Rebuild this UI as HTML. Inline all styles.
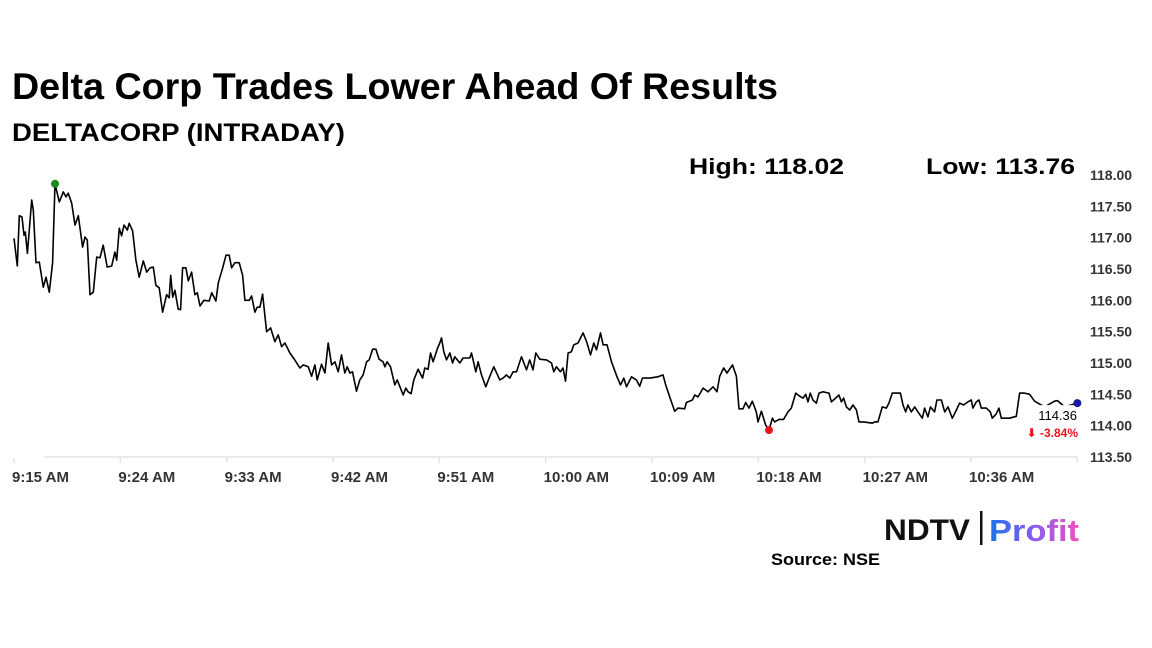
<!DOCTYPE html>
<html><head><meta charset="utf-8"><style>
html,body{margin:0;padding:0;background:#fff;width:1152px;height:648px;overflow:hidden}
svg{display:block}
text{font-family:"Liberation Sans","DejaVu Sans",sans-serif}
</style></head><body>
<svg id="chart" width="1152" height="648" viewBox="0 0 1152 648" xmlns="http://www.w3.org/2000/svg">
<defs><linearGradient id="pg" x1="0" x2="1" y1="0" y2="0"><stop offset="0" stop-color="#1a73e8"/><stop offset="0.5" stop-color="#8a5cf0"/><stop offset="1" stop-color="#f050c0"/></linearGradient></defs>
<text x="12" y="99" font-size="37" font-weight="bold" fill="#000" textLength="766" lengthAdjust="spacingAndGlyphs">Delta Corp Trades Lower Ahead Of Results</text>
<text x="12" y="141" font-size="25" font-weight="bold" fill="#000" textLength="333" lengthAdjust="spacingAndGlyphs">DELTACORP (INTRADAY)</text>
<text x="689" y="174" font-size="22" font-weight="bold" fill="#000" textLength="155" lengthAdjust="spacingAndGlyphs">High: 118.02</text>
<text x="926" y="174" font-size="22" font-weight="bold" fill="#000" textLength="149" lengthAdjust="spacingAndGlyphs">Low: 113.76</text>
<g id="yaxis"></g>
<g id="xaxis"></g>
<g id="plot"></g>
<g>
<text x="884" y="540" font-size="30" font-weight="bold" fill="#111" textLength="86" lengthAdjust="spacingAndGlyphs">NDTV</text>
<rect x="980" y="511" width="2.5" height="34" fill="#111"/>
<text x="989" y="541" font-size="31" font-weight="bold" fill="url(#pg)" textLength="90" lengthAdjust="spacingAndGlyphs">Profit</text>
</g>
<text x="771" y="565" font-size="17" font-weight="bold" fill="#000" textLength="109" lengthAdjust="spacingAndGlyphs">Source: NSE</text>
</svg>
<script>
// minutes since 9:15 AM
const times = [0,0.28,0.45,0.68,0.85,0.96,1.13,1.5,1.63,1.86,2.14,2.48,2.71,2.99,3.27,3.47,3.83,4.17,4.4,4.59,4.88,5.16,5.44,5.81,6.01,6.2,6.43,6.71,7.0,7.28,7.55,7.89,8.27,8.54,8.69,8.91,9.11,9.31,9.59,9.75,10.04,10.32,10.6,10.94,11.23,11.51,11.79,12.01,12.29,12.58,12.92,13.14,13.26,13.43,13.62,13.9,14.1,14.27,14.55,14.75,15.03,15.31,15.51,15.74,16.07,16.52,16.73,17.09,17.29,17.66,17.94,18.21,18.42,18.7,19.06,19.35,19.54,19.91,20.11,20.39,20.58,20.81,21.04,21.38,21.72,22.08,22.36,22.65,22.93,23.35,23.77,24.2,24.48,24.9,25.19,25.47,25.66,26.03,26.31,26.59,26.88,27.16,27.44,27.72,28.0,28.2,28.43,28.65,28.99,29.27,29.55,29.84,30.06,30.35,30.63,30.9,31.24,31.39,31.58,31.87,32.23,32.43,32.94,33.16,33.36,33.61,33.84,34.2,34.58,34.77,35.05,35.25,35.47,35.85,36.04,36.18,36.38,36.61,36.89,37.12,37.31,37.73,38.01,38.58,38.72,39.09,39.28,39.57,39.93,40.21,40.61,41.12,41.4,41.68,41.96,42.24,42.53,42.95,43.38,43.65,43.93,44.16,44.5,45.07,45.49,45.69,45.91,46.25,46.47,46.68,46.9,47.18,47.38,47.74,48.17,48.46,48.79,49.07,49.3,49.64,49.86,50.19,50.57,51.04,51.33,51.61,51.84,52.26,52.68,52.96,53.19,53.81,54.51,54.93,55.16,55.5,55.92,56.2,56.77,56.91,57.42,57.61,57.89,58.32,58.74,59.16,59.5,59.73,60.07,60.35,60.81,61.14,61.36,61.7,61.93,62.21,62.49,62.83,62.97,63.26,63.62,63.9,64.19,64.38,64.75,65.14,65.51,65.79,66.16,66.5,66.78,67.01,67.2,67.4,67.62,67.91,68.13,68.47,68.98,69.18,69.54,69.82,70.03,70.22,70.45,70.73,71.01,71.3,71.52,71.91,72.65,72.84,73.12,73.49,73.83,74.05,74.34,74.68,75.02,75.24,75.47,75.66,75.95,76.23,76.51,76.88,77.07,77.35,77.56,77.92,78.11,78.49,78.77,79.05,79.42,79.76,80.03,80.37,80.74,81.02,81.16,81.45,81.67,81.87,82.29,82.63,82.8,83.14,83.36,83.56,84.26,84.83,85.11,85.53,85.96,86.38,87.23,88.07,88.32,88.92,90.0];
const prices = [116.99,116.55,117.35,117.33,117.04,117.09,116.75,117.6,117.44,116.6,116.61,116.21,116.37,116.13,116.6,117.86,117.57,117.73,117.65,117.71,117.55,117.2,117.35,116.85,117.01,116.96,116.09,116.13,116.69,116.68,116.88,116.53,116.55,116.77,116.64,117.15,117.03,117.2,117.12,117.23,117.11,116.64,116.37,116.63,116.45,116.52,116.53,116.24,116.2,115.81,116.09,116.04,116.4,116.05,116.16,115.86,115.85,116.52,116.52,116.31,116.45,116.09,116.12,115.91,116.0,115.99,116.12,115.99,116.28,116.52,116.72,116.72,116.52,116.6,116.6,116.4,116.0,116.0,116.07,115.81,115.89,115.89,116.1,115.5,115.56,115.34,115.45,115.26,115.32,115.16,115.05,114.92,114.97,114.94,114.79,114.97,114.73,114.98,114.84,115.32,114.97,115.02,114.86,115.13,114.84,114.94,114.84,114.86,114.55,114.73,114.81,115.02,115.05,115.22,115.22,115.06,115.02,114.94,115.02,114.94,114.65,114.73,114.49,114.6,114.54,114.51,114.73,114.9,114.76,114.92,114.9,115.16,115.02,115.24,115.32,115.4,115.18,115.05,115.16,115.0,115.1,115.0,115.08,115.08,115.16,114.86,115.02,114.81,114.62,114.76,114.94,114.73,114.76,114.81,114.76,114.86,114.86,115.1,114.89,115.05,114.89,115.16,115.06,115.05,115.0,114.86,114.94,114.86,114.92,114.71,115.16,115.18,115.29,115.32,115.48,115.34,115.13,115.32,115.21,115.48,115.29,115.29,115.02,114.78,114.65,114.76,114.62,114.78,114.73,114.63,114.76,114.76,114.78,114.81,114.65,114.46,114.23,114.28,114.27,114.37,114.41,114.49,114.46,114.6,114.54,114.62,114.54,114.79,114.92,114.84,114.97,114.79,114.27,114.27,114.37,114.28,114.39,114.22,114.06,114.23,114.01,113.93,114.12,114.06,114.1,114.1,114.22,114.28,114.52,114.47,114.44,114.5,114.38,114.52,114.41,114.36,114.52,114.54,114.52,114.38,114.44,114.49,114.38,114.44,114.3,114.25,114.33,114.25,114.06,114.06,114.04,114.06,114.06,114.3,114.28,114.36,114.52,114.52,114.52,114.33,114.22,114.33,114.22,114.3,114.22,114.12,114.28,114.14,114.3,114.22,114.41,114.41,114.22,114.3,114.12,114.25,114.36,114.33,114.38,114.41,114.28,114.38,114.41,114.28,114.28,114.22,114.12,114.19,114.28,114.12,114.12,114.15,114.52,114.52,114.5,114.39,114.3,114.39,114.4,114.3,114.36];
const yTicks = [113.5,114,114.5,115,115.5,116,116.5,117,117.5,118];
const xTickMinutes = [0,9,18,27,36,45,54,63,72,81,90];
const xTickLabels = ["9:15 AM","9:24 AM","9:33 AM","9:42 AM","9:51 AM","10:00 AM","10:09 AM","10:18 AM","10:27 AM","10:36 AM",""];
const lastLabel = "114.36";
const changeLabel = "\u2B07 -3.84%";

const NS="http://www.w3.org/2000/svg";
const x = m => 14 + m*11.815;
const y = v => 175 + (118 - v)*62.67;
function mk(tag, attrs, parent){const e=document.createElementNS(NS,tag);for(const k in attrs)e.setAttribute(k,attrs[k]);parent.appendChild(e);return e;}
const yg=document.getElementById('yaxis'), xg=document.getElementById('xaxis'), pg=document.getElementById('plot');

yTicks.forEach(v=>{
  const t=mk('text',{x:1090,y:y(v)+5,'font-size':14,'font-weight':'bold',fill:'#333'},yg);
  
  
  t.textContent=v.toFixed(2);
});
const axl=mk('line',{x1:44,x2:1078,y1:457,y2:457,stroke:'#e3e3e3','stroke-width':1.5},xg);


xTickMinutes.forEach((m,i)=>{
  const tk=mk('line',{x1:x(m),x2:x(m),y1:458,y2:463,stroke:'#e3e3e3','stroke-width':1.5},xg);
  
  
  if(xTickLabels[i]){
    const t=mk('text',{x:x(m)-2,y:482,'font-size':15,'font-weight':'bold',fill:'#333'},xg);
    
    
    t.textContent=xTickLabels[i];
  }
});
const d=times.map((m,i)=>(i?'L':'M')+x(m).toFixed(1)+' '+y(prices[i]).toFixed(1)).join(' ');
const line=mk('path',{d:d,fill:'none',stroke:'#000','stroke-width':1.6,'stroke-linejoin':'round'},pg);



let hi=0,lo=0;prices.forEach((p,i)=>{if(p>prices[hi])hi=i;if(p<prices[lo])lo=i;});
const hd=mk('circle',{cx:x(times[hi]),cy:y(prices[hi]),r:4,fill:'#1a8a1a'},pg);


const ld=mk('circle',{cx:x(times[lo]),cy:y(prices[lo]),r:4,fill:'#e8141c'},pg);



const n=prices.length-1;
const bx=mk('rect',{x:1030,y:y(prices[n])+2,width:48,height:36,fill:'#fff'},pg);


const ed=mk('circle',{cx:x(times[n]),cy:y(prices[n]),r:4,fill:'#1a1aa0'},pg);


const lt=mk('text',{x:1077,y:y(prices[n])+17,'font-size':13,fill:'#000','text-anchor':'end'},pg);


lt.textContent=lastLabel;
const ct=mk('text',{x:1078,y:y(prices[n])+34,'font-size':12,'font-weight':'bold',fill:'#e8141c','text-anchor':'end'},pg);


ct.textContent=changeLabel;
</script>
</body></html>
